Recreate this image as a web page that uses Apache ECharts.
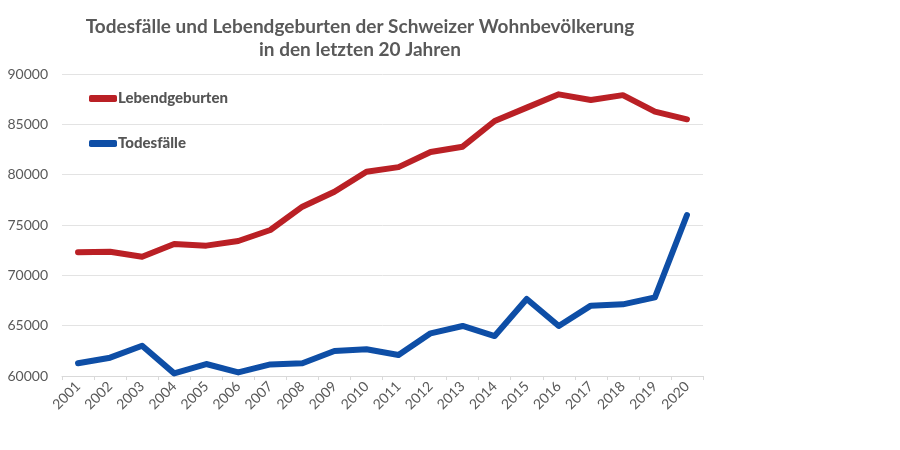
<!DOCTYPE html>
<html><head><meta charset="utf-8">
<script src="https://cdn.jsdelivr.net/npm/echarts@6/dist/echarts.min.js"></script>
<style>html,body{margin:0;padding:0;background:#fff}#c{width:900px;height:450px}</style>
</head><body><div id="c"></div>
<script>
const years = ['2001','2002','2003','2004','2005','2006','2007','2008','2009','2010','2011','2012','2013','2014','2015','2016','2017','2018','2019','2020'];
const births = [72290,72350,71850,73110,72950,73410,74500,76820,78310,80290,80750,82250,82780,85330,86660,87980,87420,87900,86260,85500];
const deaths = [61260,61820,63010,60260,61190,60360,61150,61260,62480,62650,62090,64240,64970,63970,67650,64970,66990,67120,67810,75990];
const yTicks = {min:60000, max:90000, interval:5000};
const titleText = 'Todesfälle und Lebendgeburten der Schweizer Wohnbevölkerung\nin den letzten 20 Jahren';

const chart = echarts.init(document.getElementById('c'), null, {renderer:'canvas'});
chart.setOption({
  animation:false,
  backgroundColor:'#fff',
  title:{text:titleText, left:355, textAlign:'center', top:10,
    textStyle:{fontFamily:'Lato', fontWeight:'bold', fontSize:19, color:'#595959', lineHeight:23}},
  legend:{orient:'vertical', left:84, top:86, itemGap:30, itemWidth:28, itemHeight:7,
    icon:'roundRect',
    textStyle:{fontFamily:'Lato', fontWeight:900, fontSize:15, color:'#555555', padding:[0,0,0,-4]},
    data:['Lebendgeburten','Todesfälle']},
  grid:{left:62, right:197, top:74, bottom:74, containLabel:false},
  xAxis:{type:'category', data:years, boundaryGap:true,
    axisLine:{lineStyle:{color:'#d9d9d9'}},
    axisTick:{show:true, length:4, lineStyle:{color:'#d9d9d9'}},
    axisLabel:{rotate:45, fontFamily:'Lato', fontSize:14, color:'#595959', margin:8, interval:0}},
  yAxis:{type:'value', min:yTicks.min, max:yTicks.max, interval:yTicks.interval,
    axisLine:{show:false}, axisTick:{show:false},
    splitLine:{lineStyle:{color:'#e3e3e3', width:1}},
    axisLabel:{fontFamily:'Lato', fontSize:14, color:'#595959', margin:14, formatter:function(v){return String(v);}}},
  series:[
    {name:'Lebendgeburten', type:'line', data:births, symbol:'none', color:'#ba2025',
      lineStyle:{width:6, color:'#ba2025', cap:'round', join:'round'}},
    {name:'Todesfälle', type:'line', data:deaths, symbol:'none', color:'#0e4ea6',
      lineStyle:{width:6, color:'#0e4ea6', cap:'round', join:'round'}}
  ]
});
</script></body></html>
